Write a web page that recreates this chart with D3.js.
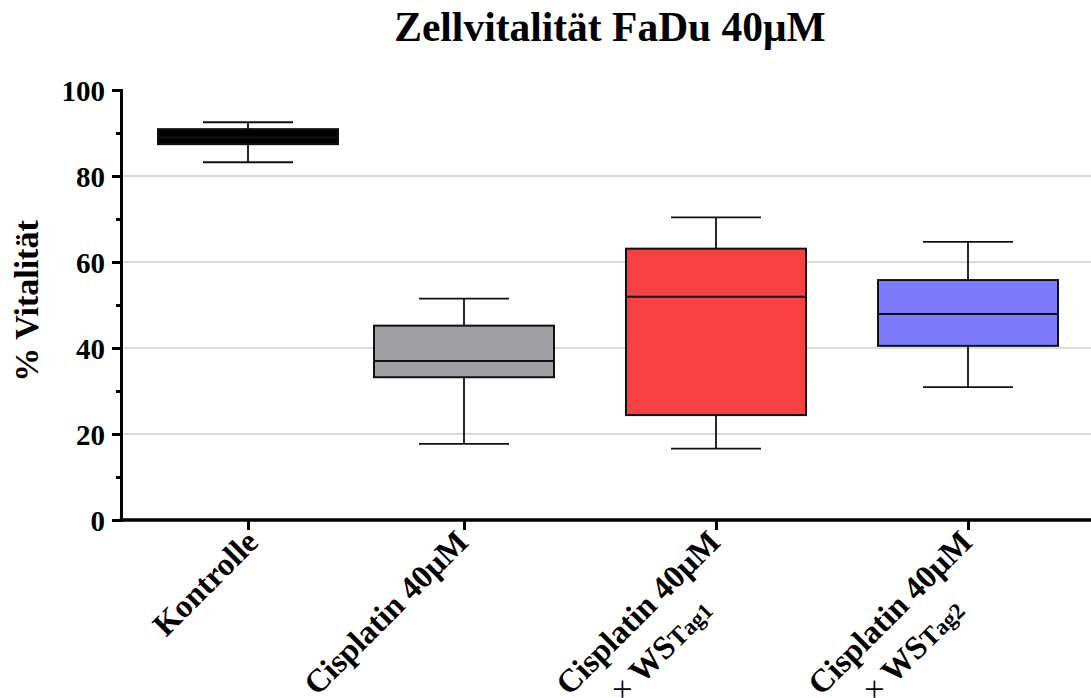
<!DOCTYPE html>
<html>
<head>
<meta charset="utf-8">
<script src="https://cdn.jsdelivr.net/npm/d3@7"></script>
<style>
  body { margin: 0; background: #fff; }
  text { font-family: "Liberation Serif", "Times New Roman", serif; font-weight: bold; }
</style>
</head>
<body>
<script>
// Zellvitalitaet FaDu, box plot of the four groups
var groups = ["Kontrolle", "Cisplatin 40μM", "Cisplatin 40μM + WSTag1", "Cisplatin 40μM + WSTag2"];
var labelTop = ["Kontrolle", "Cisplatin 40μM", "Cisplatin 40μM", "Cisplatin 40μM"];
var labelSub = ["", "", "ag1", "ag2"];   // second line "× WS" + "T" + sub, empty = one line

// box values, % vitality
var whiskerLow  = [83.2, 17.7, 16.6, 30.9];
var q1          = [87.4, 33.2, 24.4, 40.5];
var median      = [89.0, 37.0, 51.9, 47.9];
var q3          = [90.9, 45.2, 63.1, 55.8];
var whiskerHigh = [92.5, 51.5, 70.4, 64.7];

var boxColors = ["#000000", "#a09fa4", "#f84143", "#7b7bfb"];

var yTicks = [0, 20, 40, 60, 80, 100];
var yMinor = [10, 30, 50, 70, 90];

var boxes = [];
for (var i = 0; i < groups.length; i++) {
  boxes.push({
    name: groups[i], lo: whiskerLow[i], q1: q1[i], med: median[i],
    q3: q3[i], hi: whiskerHigh[i], color: boxColors[i]
  });
}

var W = 1091, H = 698;
var axisX = 121, axisY = 520;

var svg = d3.select("body").append("svg")
  .attr("width", W)
  .attr("height", H);

var y = d3.scaleLinear().domain([0, 100]).range([axisY, 90]);
// the groups are not evenly spaced in the original
var x = d3.scaleOrdinal().domain(groups).range([248, 464, 716, 968]);
var boxW = 180, capW = 90;

// grid lines
svg.append("g").selectAll("line")
  .data(yTicks.filter(function(d) { return d > 0 && d < 100; }))
  .enter().append("line")
    .attr("x1", axisX).attr("x2", W)
    .attr("y1", function(d) { return y(d); })
    .attr("y2", function(d) { return y(d); })
    .attr("stroke", "#cfcfcf")
    .attr("stroke-width", 1.5);

// boxes
var g = svg.append("g").selectAll("g")
  .data(boxes)
  .enter().append("g")
    .attr("transform", function(d) { return "translate(" + x(d.name) + ",0)"; });

g.append("line")
  .attr("x1", 0).attr("x2", 0)
  .attr("y1", function(d) { return y(d.hi); })
  .attr("y2", function(d) { return y(d.lo); })
  .attr("stroke", "#111").attr("stroke-width", 1.8);

g.selectAll(".cap")
  .data(function(d) { return [d.lo, d.hi]; })
  .enter().append("line")
    .attr("class", "cap")
    .attr("x1", -capW / 2).attr("x2", capW / 2)
    .attr("y1", function(v) { return y(v); })
    .attr("y2", function(v) { return y(v); })
    .attr("stroke", "#111").attr("stroke-width", 1.8);

g.append("rect")
  .attr("x", -boxW / 2)
  .attr("width", boxW)
  .attr("y", function(d) { return y(d.q3); })
  .attr("height", function(d) { return y(d.q1) - y(d.q3); })
  .attr("fill", function(d) { return d.color; })
  .attr("stroke", "#111").attr("stroke-width", 2);

g.append("line")
  .attr("x1", -boxW / 2).attr("x2", boxW / 2)
  .attr("y1", function(d) { return y(d.med); })
  .attr("y2", function(d) { return y(d.med); })
  .attr("stroke", "#111").attr("stroke-width", 2);

// y axis
var yAxis = svg.append("g")
  .attr("transform", "translate(" + axisX + ",0)")
  .call(d3.axisLeft(y).tickValues(yTicks).tickSize(9).tickPadding(7));
yAxis.select(".domain").attr("stroke-width", 3).attr("stroke", "#000");
yAxis.selectAll(".tick line").attr("stroke-width", 3).attr("stroke", "#000");
yAxis.selectAll(".tick text")
  .attr("font-size", 29)
  .attr("font-family", "Liberation Serif")
  .attr("font-weight", "bold")
  .attr("fill", "#000")
  .attr("dy", "0.36em");

var yMinorAxis = svg.append("g")
  .attr("transform", "translate(" + axisX + ",0)")
  .call(d3.axisLeft(y).tickValues(yMinor).tickSize(5).tickFormat(""));
yMinorAxis.select(".domain").remove();
yMinorAxis.selectAll(".tick line").attr("stroke-width", 3).attr("stroke", "#000");

// x axis
svg.append("line")
  .attr("x1", axisX - 1.5).attr("x2", W)
  .attr("y1", axisY).attr("y2", axisY)
  .attr("stroke", "#000").attr("stroke-width", 3.5);

var xAxis = svg.append("g")
  .attr("transform", "translate(0," + axisY + ")")
  .call(d3.axisBottom(x).tickSize(10).tickFormat(""));
xAxis.select(".domain").remove();
xAxis.selectAll(".tick line").attr("stroke-width", 3).attr("stroke", "#000");

// rotated category labels
var fs = 32.5;
var lab = svg.append("g").selectAll("g")
  .data(groups)
  .enter().append("g")
    .attr("transform", function(d, i) {
      var dx = i === 0 ? 12 : 6;
      return "translate(" + (x(d) + dx) + "," + (axisY + 24) + ") rotate(-45)";
    });

lab.append("text")
  .attr("class", "l1")
  .attr("text-anchor", "end")
  .attr("font-size", fs)
  .text(function(d, i) { return labelTop[i]; });

lab.each(function(d, i) {
  if (!labelSub[i]) return;
  var sel = d3.select(this);
  var len = sel.select(".l1").node().getComputedTextLength();
  var t = sel.append("text")
    .attr("text-anchor", "middle")
    .attr("x", -len / 2 - 10)
    .attr("y", fs * 1.32)
    .attr("font-size", fs);
  t.append("tspan").attr("font-weight", "normal").text("× ");
  t.append("tspan").text("WS");
  t.append("tspan").attr("font-size", fs * 0.8).text("T");
  t.append("tspan").attr("font-size", fs * 0.7).text(labelSub[i]);
});

// y axis title
svg.append("text")
  .attr("transform", "translate(38,301) rotate(-90)")
  .attr("text-anchor", "middle")
  .attr("font-size", 34)
  .text("% Vitalität");

// chart title
svg.append("text")
  .attr("x", 610)
  .attr("y", 41)
  .attr("text-anchor", "middle")
  .attr("font-size", 41.5)
  .text("Zellvitalität FaDu 40μM");
</script>
</body>
</html>
